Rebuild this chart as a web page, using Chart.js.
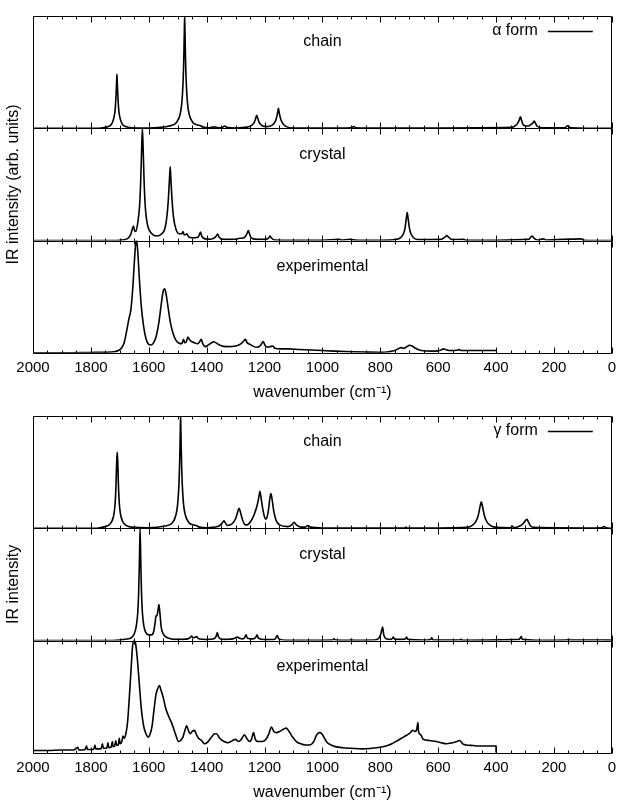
<!DOCTYPE html>
<html><head><meta charset="utf-8">
<script src="https://cdn.jsdelivr.net/npm/chart.js@4.4.1/dist/chart.umd.min.js"></script>
<style>
html,body{margin:0;padding:0;background:#fff;width:622px;height:804px;overflow:hidden}
canvas{position:absolute;left:0}
#c1{top:0}#c2{top:400px}
</style></head>
<body>
<canvas id="c1" width="622" height="402"></canvas>
<canvas id="c2" width="622" height="404"></canvas>
<script>
// ---------- data (wavenumber cm^-1, intensity as % of panel height) ----------
const panelNames = ['chain', 'crystal', 'experimental'];
const xTickValues = [2000, 1800, 1600, 1400, 1200, 1000, 800, 600, 400, 200, 0];

const alphaChain = [[2000,0],[1780,0],[1760,0.5],[1740,1.5],[1728,4],[1720,10],[1716,17],[1713,30],[1711,42],[1710,48],[1709,42],[1707,30],[1704,17],[1700,10],[1692,4],[1680,1.5],[1660,0.5],[1600,0.3],[1560,0.8],[1530,2],[1505,5],[1492,12],[1486,22],[1482,38],[1479,62],[1477,88],[1476,100],[1475,88],[1473,62],[1470,38],[1466,22],[1460,12],[1447,5],[1432,3],[1423,2.5],[1412,1],[1390,0.5],[1375,1.2],[1360,0.5],[1345,1],[1338,2],[1331,0.8],[1300,0.3],[1260,1],[1245,2.5],[1236,5],[1231,8.5],[1227,11.5],[1223,8.5],[1218,5],[1210,2.5],[1195,1.5],[1180,2],[1168,4],[1160,8],[1155,13.5],[1152,17.7],[1149,13.5],[1144,8],[1136,4],[1125,1.5],[1100,0.3],[1000,0.2],[900,0.5],[892,1.5],[885,0.5],[800,0.2],[600,0.3],[345,0.8],[332,2.5],[324,5],[319,8],[316,10.3],[313,8],[308,4],[298,2],[288,2],[279,3.5],[272,5],[268,6.5],[264,4.5],[258,1.8],[240,0.5],[162,0.5],[152,2.3],[143,0.5],[0,0]];

const alphaCrystal = [[2000,0],[1760,0],[1700,0.3],[1675,1.5],[1663,5],[1657,10],[1653,13],[1649,9],[1645,8],[1638,16],[1632,30],[1628,52],[1625,78],[1622,100],[1619,78],[1616,52],[1612,30],[1606,16],[1598,9],[1585,5],[1570,4],[1555,6],[1545,10],[1538,20],[1533,34],[1529,52],[1526,66],[1523,52],[1519,34],[1514,20],[1506,10],[1495,6],[1486,6],[1482,8],[1477,5],[1471,5.5],[1468,6],[1463,3.5],[1450,2.5],[1430,3],[1424,6],[1421,7.5],[1417,4],[1405,1.5],[1385,1.2],[1368,3.5],[1362,5.7],[1357,3],[1340,1],[1300,1.2],[1285,2],[1279,2],[1268,3],[1260,6.5],[1256,9],[1252,6],[1245,2],[1220,1],[1190,1.5],[1184,3],[1181,4],[1177,2.5],[1165,0.5],[1100,0.3],[1000,0.3],[940,1],[935,0.5],[905,1],[880,0.2],[800,0.2],[745,1],[730,2.5],[720,6],[714,12],[710,20],[707,25],[704,20],[700,12],[694,6],[685,2.5],[670,0.8],[590,1],[577,3],[570,4.5],[564,3],[552,0.8],[512,1],[505,0.3],[400,0.3],[287,1],[280,3],[275,4],[270,2.5],[258,0.5],[236,1.5],[228,0.5],[106,1.5],[97,0.3],[0,0]];

const alphaExp = [[2000,0],[1900,0],[1800,0.3],[1750,0.5],[1720,1],[1705,2],[1695,4],[1685,9],[1676,20],[1668,31],[1662,38],[1656,55],[1650,80],[1645,98],[1642,100],[1638,90],[1633,68],[1626,42],[1618,24],[1610,13],[1600,7.5],[1592,7],[1583,9],[1574,15],[1565,27],[1557,43],[1550,55],[1545,57],[1540,52],[1533,40],[1526,28],[1517,18],[1507,11.5],[1495,8.5],[1486,8],[1480,12],[1476,9],[1470,10],[1465,14],[1460,12],[1452,10],[1442,9],[1432,8],[1424,10],[1419,12],[1413,8],[1405,5.5],[1394,7],[1383,9],[1376,9.8],[1366,8.5],[1352,6.5],[1330,5.5],[1300,6],[1282,8],[1272,10.5],[1266,12],[1260,9],[1250,7.5],[1236,5.5],[1226,5],[1214,6.5],[1205,10],[1199,7],[1190,5],[1180,5.5],[1172,6],[1164,4],[1145,3.5],[1120,3.5],[1080,3],[1040,2.5],[1000,2],[960,1.5],[900,1],[850,0.7],[800,0.5],[770,1],[750,2],[735,4],[728,4.6],[720,4],[708,5.5],[700,6.7],[690,6],[678,4],[665,2.5],[650,1.8],[625,1.5],[600,1.7],[590,2.5],[582,3.5],[574,3],[560,2],[535,2.3],[527,2.8],[520,2],[480,2],[440,2],[400,2]];

const gammaChain = [[2000,0],[1780,0],[1760,1],[1740,2.5],[1728,6],[1720,13],[1716,23],[1713,40],[1711,58],[1709,68],[1707,58],[1705,40],[1702,23],[1698,13],[1690,6],[1678,2.5],[1660,1],[1600,0.5],[1545,2],[1518,5],[1506,12],[1500,22],[1496,38],[1493,62],[1491,88],[1490,100],[1489,88],[1487,62],[1484,38],[1480,22],[1474,12],[1461,5],[1445,3],[1436,2.5],[1425,1],[1400,0.5],[1362,1.5],[1350,3.5],[1344,5.5],[1340,6.7],[1336,5],[1328,2.5],[1312,4],[1301,8],[1295,12.5],[1291,16],[1288,17.7],[1285,16],[1281,12],[1274,6],[1266,3],[1260,3],[1248,6],[1236,12],[1226,20],[1220,27],[1216,33],[1212,27],[1206,17],[1200,10],[1196,8],[1190,11],[1186,17],[1182,26],[1178,31],[1174,26],[1168,15],[1160,7],[1148,3],[1120,1.5],[1106,3],[1098,5.3],[1090,3],[1075,1],[1060,1],[1050,2.5],[1042,1],[1000,0.3],[900,0.3],[800,0.3],[716,0.3],[712,1],[708,0.3],[600,0.3],[500,0.8],[482,2.5],[470,6],[462,11],[457,17],[454,21],[451,23.5],[448,21],[445,17],[440,11],[432,6],[420,2.5],[405,1],[350,0.5],[344,2],[339,0.5],[318,2],[305,4.5],[298,7],[293,8],[289,6],[282,2.5],[270,0.8],[100,0.3],[35,0.5],[27,1.5],[20,0.5],[0,0]];

const gammaCrystal = [[2000,0],[1760,0],[1700,0.5],[1670,1.5],[1660,2.5],[1650,6],[1643,13],[1638,25],[1635,42],[1632,75],[1630,100],[1628,75],[1625,42],[1622,25],[1617,13],[1610,7],[1600,5],[1590,5],[1583,8],[1578,16],[1575,22],[1572,22],[1568,27],[1565,32],[1562,26],[1557,12],[1550,6],[1535,2.5],[1500,1],[1465,1.5],[1456,3],[1452,4],[1447,2.5],[1440,3],[1434,3.5],[1428,1.5],[1400,0.8],[1375,1.5],[1367,4],[1363,7],[1359,3],[1345,1],[1310,1.5],[1300,2.5],[1293,3],[1286,2],[1275,1.5],[1268,3],[1264,5],[1259,2],[1240,1.5],[1230,3],[1226,5],[1221,2],[1200,0.8],[1165,1],[1160,3],[1156,4.5],[1151,1.5],[1125,0.3],[1050,0.3],[965,0.5],[960,1.5],[955,0.5],[905,0.3],[900,1],[895,0.3],[820,0.5],[805,2],[798,6],[792,12],[788,5],[780,1.5],[765,1],[758,2],[755,3],[750,1.2],[720,1],[712,2],[709,3],[705,1],[650,0.5],[626,1],[622,2.5],[618,0.5],[525,0.5],[521,1],[516,0.3],[320,1],[316,2.5],[313,3.5],[309,1],[260,0.3],[155,0.5],[150,1],[145,0.5],[30,0.5],[0,0.3]];

const gammaExp = [[2000,2],[1950,2],[1900,2.5],[1860,2.5],[1845,5],[1842,2.5],[1820,3],[1815,6],[1812,3],[1790,3],[1786,7],[1783,3.5],[1765,3.5],[1760,8],[1757,4],[1745,4],[1741,9],[1738,4.5],[1730,5],[1726,10],[1723,5.5],[1718,6],[1714,11],[1711,6.5],[1705,7],[1702,13],[1699,8],[1693,10],[1689,15],[1685,13],[1679,17],[1673,28],[1667,50],[1661,75],[1656,95],[1651,100],[1646,98],[1640,85],[1634,66],[1626,40],[1617,23],[1608,16],[1602,14],[1595,17],[1589,23],[1582,38],[1575,52],[1569,57],[1563,60],[1558,56],[1553,52],[1547,46],[1543,41],[1532,33],[1520,26],[1508,17],[1497,10],[1490,11],[1482,14],[1475,20],[1469,24],[1463,20],[1457,17],[1450,19],[1442,20],[1435,16],[1428,13],[1418,11],[1406,8],[1395,10],[1383,14],[1372,17],[1366,17],[1355,13],[1340,10],[1325,9],[1310,11],[1300,12],[1290,10],[1280,12],[1270,16],[1262,13],[1252,10],[1245,12],[1238,18],[1232,12],[1222,10],[1208,10],[1195,12],[1185,17],[1176,23],[1168,19],[1158,18],[1148,19],[1135,21],[1125,22],[1115,19],[1103,14],[1090,10],[1075,8],[1060,7],[1045,7],[1030,10],[1020,16],[1010,18],[1002,17],[993,13],[983,9],[970,7],[955,5.5],[930,4.5],[900,4],[860,3.5],[830,4],[812,4.5],[780,6],[760,8],[740,11],[720,14],[700,17],[688,20],[680,19],[674,21],[670,27],[668,19],[660,16],[652,12],[630,11],[606,10],[590,9],[572,8],[550,9],[535,10],[526,11],[515,8],[504,7],[480,6.5],[460,6],[440,6],[420,6],[405,6],[400,6],[400,0]];

// ---------- rendering ----------
const FONT = '"Liberation Sans", Arial, Helvetica, sans-serif';
Chart.defaults.font.family = FONT;
Chart.defaults.color = '#000';

const framePlugin = {
  id: 'frame',
  afterDatasetsDraw(chart, args, o) {
    const ctx = chart.ctx, xs = chart.scales.x, area = chart.chartArea;
    ctx.save();
    ctx.strokeStyle = '#000'; ctx.fillStyle = '#000'; ctx.lineWidth = 1;
    const L = Math.round(area.left) + 0.5, R = Math.round(area.right) - 0.5;
    o.panels.forEach((p) => {
      const s = chart.scales[p.id];
      const T = Math.round(s.top) + 0.5, B = Math.round(s.bottom) + 0.5;
      ctx.beginPath(); ctx.rect(L, T, R - L, B - T); ctx.stroke();
      ctx.beginPath();
      for (let v = xs.min; v <= xs.max; v += o.minorStep) {
        const px = Math.round(xs.getPixelForValue(v)) + 0.5;
        const len = v % o.majorStep === 0 ? 6 : 3;
        ctx.moveTo(px, T); ctx.lineTo(px, T + len);
        ctx.moveTo(px, B); ctx.lineTo(px, B - len);
      }
      ctx.stroke();
      ctx.font = '16px ' + FONT; ctx.textAlign = 'center'; ctx.textBaseline = 'middle';
      ctx.fillText(p.label, xs.getPixelForValue(o.labelAt), s.top + 26);
    });
    const top0 = chart.scales[o.panels[0].id].top;
    ctx.font = '16px ' + FONT; ctx.textAlign = 'right'; ctx.textBaseline = 'middle';
    ctx.fillText(o.formLabel, area.right - 74, top0 + 15);
    ctx.beginPath(); ctx.lineWidth = 1.4;
    ctx.moveTo(area.right - 64, Math.round(top0 + 15) + 0.5);
    ctx.lineTo(area.right - 19, Math.round(top0 + 15) + 0.5);
    ctx.stroke();
    ctx.translate(14, (area.top + area.bottom) / 2);
    ctx.rotate(-Math.PI / 2);
    ctx.textAlign = 'center';
    ctx.fillText(o.yTitle, 0, 0);
    ctx.restore();
  }
};

function makeFigure(id, series, formLabel, yTitle, padBottom) {
  const ids = ['yChain', 'yCrystal', 'yExp'];
  const yScale = (w) => ({ type: 'linear', display: false, min: 0, max: 100, position: 'left',
                           stack: 'panels', stackWeight: 1, weight: w, offset: false });
  new Chart(document.getElementById(id), {
    type: 'line',
    data: {
      datasets: series.map((s, i) => ({
        label: panelNames[i],
        data: s.map(([x, y]) => ({ x, y })),
        yAxisID: ids[i],
        borderColor: '#000', borderWidth: 1.6, pointRadius: 0,
        cubicInterpolationMode: 'monotone', borderJoinStyle: 'round', fill: false
      }))
    },
    options: {
      responsive: false, animation: false, devicePixelRatio: 1,
      layout: { padding: { left: 33, right: 5, top: 16, bottom: padBottom } },
      plugins: {
        legend: { display: false }, tooltip: { enabled: false },
        frame: { panels: ids.map((p, i) => ({ id: p, label: panelNames[i] })),
                 formLabel, yTitle, majorStep: 200, minorStep: 50, labelAt: 1000 }
      },
      scales: {
        x: {
          type: 'linear', reverse: true, min: 0, max: 2000,
          afterBuildTicks: (sc) => { sc.ticks = xTickValues.map(v => ({ value: v })); },
          ticks: { callback: (v) => String(v), font: { size: 15 }, color: '#000', padding: 6,
                   maxRotation: 0, autoSkip: false },
          grid: { display: false, drawTicks: false },
          border: { display: false },
          title: { display: true, text: 'wavenumber (cm\u207B\u00B9)', font: { size: 16 }, color: '#000',
                   padding: { top: 0, bottom: 0 } }
        },
        yChain: yScale(3),
        yCrystal: yScale(2),
        yExp: yScale(1)
      }
    },
    plugins: [framePlugin]
  });
}

makeFigure('c1', [alphaChain, alphaCrystal, alphaExp], '\u03B1 form', 'IR intensity (arb. units)', 0);
makeFigure('c2', [gammaChain, gammaCrystal, gammaExp], '\u03B3 form', 'IR intensity', 2);
</script>
</body></html>
